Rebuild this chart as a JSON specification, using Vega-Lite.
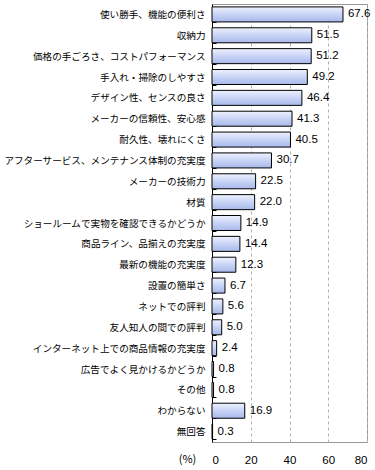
{
  "$schema": "https://vega.github.io/schema/vega-lite/v6.json",
  "width": 155,
  "height": 438,
  "autosize": {"type": "none"},
  "padding": {"left": 212, "top": 4, "right": 8, "bottom": 28},
  "background": "white",
  "config": {
    "view": {"stroke": "#999999", "strokeWidth": 1},
    "font": "Noto Sans CJK JP"
  },
  "data": {
    "values": [
      {"item": "使い勝手、機能の便利さ", "value": 67.6},
      {"item": "収納力", "value": 51.5},
      {"item": "価格の手ごろさ、コストパフォーマンス", "value": 51.2},
      {"item": "手入れ・掃除のしやすさ", "value": 49.2},
      {"item": "デザイン性、センスの良さ", "value": 46.4},
      {"item": "メーカーの信頼性、安心感", "value": 41.3},
      {"item": "耐久性、壊れにくさ", "value": 40.5},
      {"item": "アフターサービス、メンテナンス体制の充実度", "value": 30.7},
      {"item": "メーカーの技術力", "value": 22.5},
      {"item": "材質", "value": 22.0},
      {"item": "ショールームで実物を確認できるかどうか", "value": 14.9},
      {"item": "商品ライン、品揃えの充実度", "value": 14.4},
      {"item": "最新の機能の充実度", "value": 12.3},
      {"item": "設置の簡単さ", "value": 6.7},
      {"item": "ネットでの評判", "value": 5.6},
      {"item": "友人知人の間での評判", "value": 5.0},
      {"item": "インターネット上での商品情報の充実度", "value": 2.4},
      {"item": "広告でよく見かけるかどうか", "value": 0.8},
      {"item": "その他", "value": 0.8},
      {"item": "わからない", "value": 16.9},
      {"item": "無回答", "value": 0.3}
    ]
  },
  "encoding": {
    "y": {
      "field": "item",
      "type": "nominal",
      "sort": null,
      "scale": {"paddingInner": 0.28, "paddingOuter": 0.14},
      "axis": {
        "title": null,
        "domainColor": "#000000",
        "domainWidth": 1,
        "tickBand": "extent",
        "tickColor": "#000000",
        "tickSize": -4,
        "labelPadding": 11,
        "labelFontSize": 9.6,
        "labelColor": "#000000",
        "labelLimit": 220
      }
    },
    "x": {
      "field": "value",
      "type": "quantitative",
      "scale": {"domain": [0, 80], "nice": false},
      "axis": {
        "values": [0, 20, 40, 60, 80],
        "title": "(%)",
        "titleFontWeight": "normal",
        "titleFontSize": 11,
        "titleColor": "#000000",
        "titleX": -25,
        "titleY": 17,
        "titleAlign": "center",
        "titleBaseline": "middle",
        "domain": false,
        "ticks": false,
        "labelPadding": 12,
        "labelFontSize": 11.5,
        "labelFont": "Liberation Sans",
        "labelColor": "#000000",
        "grid": true,
        "gridColor": "#b0b0b0",
        "gridDash": [3, 3]
      }
    }
  },
  "layer": [
    {
      "mark": {
        "type": "bar",
        "stroke": "#000000",
        "strokeWidth": 1,
        "color": {
          "gradient": "linear",
          "x1": 0, "y1": 0, "x2": 0, "y2": 1,
          "stops": [
            {"offset": 0, "color": "#eef2fe"},
            {"offset": 0.5, "color": "#c8d4f6"},
            {"offset": 1, "color": "#a9b8ea"}
          ]
        }
      }
    },
    {
      "mark": {"type": "text", "align": "left", "dx": 5, "fontSize": 11.5, "font": "Liberation Sans", "color": "#000000"},
      "encoding": {"text": {"field": "value", "type": "quantitative", "format": ".1f"}}
    }
  ]
}
